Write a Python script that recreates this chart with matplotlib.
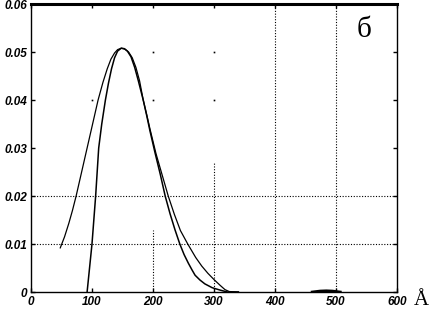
import numpy as np
import matplotlib.pyplot as plt

# wide distribution (starts at ~50 A)
x_wide = [48, 55, 62, 68, 74, 83, 92, 101, 110, 118, 125, 131, 137, 142, 148,
          154, 160, 166, 172, 178, 184, 190, 195, 205, 215, 225, 235, 245, 257,
          270, 280, 290, 300, 310, 318, 325, 340]
y_wide = [0.0092, 0.0115, 0.0143, 0.0170, 0.020, 0.025, 0.030, 0.035, 0.040,
          0.0437, 0.0465, 0.0485, 0.0498, 0.0505, 0.0508, 0.0506, 0.0500,
          0.0488, 0.0468, 0.0440, 0.040, 0.0368, 0.034, 0.0288, 0.0244, 0.020,
          0.0162, 0.0128, 0.0100, 0.0072, 0.0054, 0.0039, 0.0026, 0.0014,
          0.0005, 0.0001, 0.0]
# narrow distribution (starts at ~92 A)
x_narrow = [92, 96, 100, 103, 106, 108.5, 111, 116, 122, 127, 132, 137, 142,
            148, 153, 158, 164, 170, 176, 184, 190, 195, 203, 212, 220, 228,
            236, 244, 251, 258, 264, 269, 277, 285, 297, 310, 322, 340]
y_narrow = [0.0, 0.005, 0.010, 0.015, 0.020, 0.025, 0.030, 0.035, 0.040,
            0.0435, 0.0465, 0.0488, 0.0502, 0.0508, 0.0507, 0.0502, 0.0490,
            0.0468, 0.0440, 0.040, 0.0366, 0.0336, 0.0292, 0.0245, 0.020,
            0.0163, 0.0130, 0.010, 0.0078, 0.0060, 0.0046, 0.0035, 0.0025,
            0.0017, 0.0009, 0.0004, 0.0, 0.0]
# small bump near 480 A
x_bump = [461, 474, 484, 494, 507]
y_bump = [0.0, 0.0002, 0.00025, 0.0002, 0.0]

xticks = [0, 100, 200, 300, 400, 500, 600]
yticks = [0, 0.01, 0.02, 0.03, 0.04, 0.05, 0.06]
ytick_labels = ["0", "0.01", "0.02", "0.03", "0.04", "0.05", "0.06"]

fig = plt.figure(figsize=(4.34, 3.10), dpi=100)
ax = fig.add_axes([0.0714, 0.058, 0.8433, 0.929])

# partial dotted grid (upper-left part of the grid is blanked in the original)
grid_kw = dict(colors="black", linestyles=(0, (1, 1.5)), linewidth=0.8)
ax.hlines([0.01, 0.02], 0, 600, **grid_kw)
ax.vlines([400, 500], 0, 0.06, **grid_kw)
ax.vlines(300, 0, 0.027, **grid_kw)
ax.vlines(200, 0, 0.013, **grid_kw)
ax.plot([100, 200, 300, 200, 300], [0.04, 0.04, 0.04, 0.05, 0.05], "ks",
        markersize=1.2, markeredgewidth=0)

ax.plot(x_wide, y_wide, color="black", linewidth=0.9)
ax.plot(x_narrow, y_narrow, color="black", linewidth=1.1)
ax.plot(x_bump, y_bump, color="black", linewidth=2)

ax.set_xlim(0, 600)
ax.set_ylim(0, 0.06)
ax.set_xticks(xticks)
ax.set_yticks(yticks)
ax.set_yticklabels(ytick_labels)
ax.tick_params(direction="in", top=True, right=True, length=3, width=1,
               pad=3, labelsize=8.5)
for lab in ax.get_xticklabels() + ax.get_yticklabels():
    lab.set_fontfamily("Liberation Sans")
    lab.set_fontweight("bold")
    lab.set_fontstyle("italic")

for side in ["left", "right", "bottom"]:
    ax.spines[side].set_linewidth(1)
ax.spines["top"].set_linewidth(2.2)

ax.text(0.91, 0.955, "б", transform=ax.transAxes, fontsize=21,
        family="Liberation Serif", ha="center", va="top")
fig.text(0.988, 0.0, "Å", fontsize=15, family="Liberation Serif",
         ha="right", va="bottom")

fig.savefig("out.png", dpi=100)
